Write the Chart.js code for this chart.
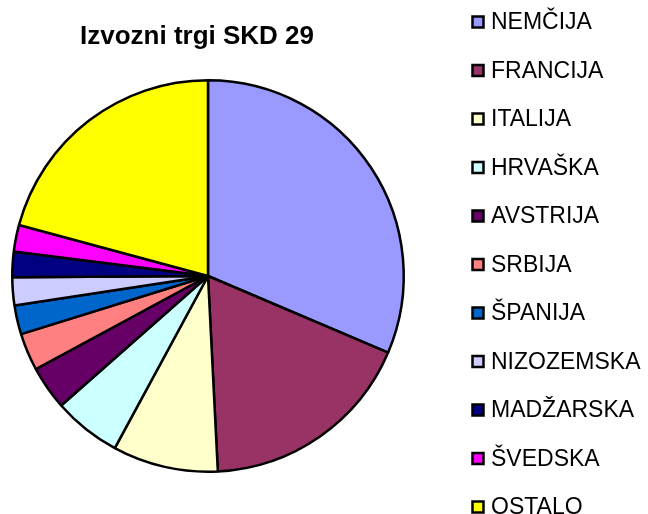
<!doctype html>
<html>
<head>
    <meta charset="utf-8">
    <title>Izvozni trgi SKD 29</title>
    <script src="https://cdn.jsdelivr.net/npm/chart.js@4/dist/chart.umd.min.js"></script>
    <style>
        html, body { margin: 0; padding: 0; background: #fff; overflow: hidden; }
        #wrap { width: 648px; height: 514px; }
    </style>
</head>
<body>
    <div id="wrap"><canvas id="myChart" width="648" height="514"></canvas></div>
    <script>
    var chartTitle = 'Izvozni trgi SKD 29';
    var countries = ['NEMČIJA', 'FRANCIJA', 'ITALIJA', 'HRVAŠKA', 'AVSTRIJA', 'SRBIJA',
                     'ŠPANIJA', 'NIZOZEMSKA', 'MADŽARSKA', 'ŠVEDSKA', 'OSTALO'];
    var shares = [31.4, 17.8, 8.7, 5.6, 3.6, 3.1, 2.4, 2.3, 2.1, 2.2, 20.8];
    var colors = ['#9999FF', '#993366', '#FFFFCC', '#CCFFFF', '#660066', '#FF8080',
                  '#0066CC', '#CCCCFF', '#000080', '#FF00FF', '#FFFF00'];

    // title and legend drawn by hand so they sit where the original has them
    var sideText = {
        id: 'sideText',
        afterDraw: function(chart) {
            var c = chart.ctx;
            c.save();
            c.fillStyle = '#000';
            c.textBaseline = 'middle';
            c.textAlign = 'center';
            c.font = 'bold 26px Arial, "Liberation Sans", sans-serif';
            c.fillText(chartTitle, 197, 37);
            c.textAlign = 'left';
            c.font = '23px Arial, "Liberation Sans", sans-serif';
            chart.data.labels.forEach(function(lbl, i) {
                var y = 22 + i * 48.5;
                c.fillStyle = chart.data.datasets[0].backgroundColor[i];
                c.fillRect(472, y - 6, 12, 12);
                c.lineWidth = 2.5;
                c.strokeStyle = '#000';
                c.strokeRect(472.5, y - 5.5, 11, 11);
                c.fillStyle = '#000';
                c.fillText(lbl, 491, y + 1);
            });
            c.restore();
        }
    };

    var ctx = document.getElementById('myChart').getContext('2d');
    new Chart(ctx, {
        type: 'pie',
        data: {
            labels: countries,
            datasets: [{
                data: shares,
                backgroundColor: colors,
                borderColor: '#000',
                borderWidth: 2.5
            }]
        },
        options: {
            responsive: false,
            animation: false,
            layout: { padding: { top: 79, left: 11, right: 243, bottom: 41 } },
            plugins: {
                legend: { display: false },
                title: { display: false },
                tooltip: { enabled: false }
            }
        },
        plugins: [sideText]
    });
    </script>
</body>
</html>
